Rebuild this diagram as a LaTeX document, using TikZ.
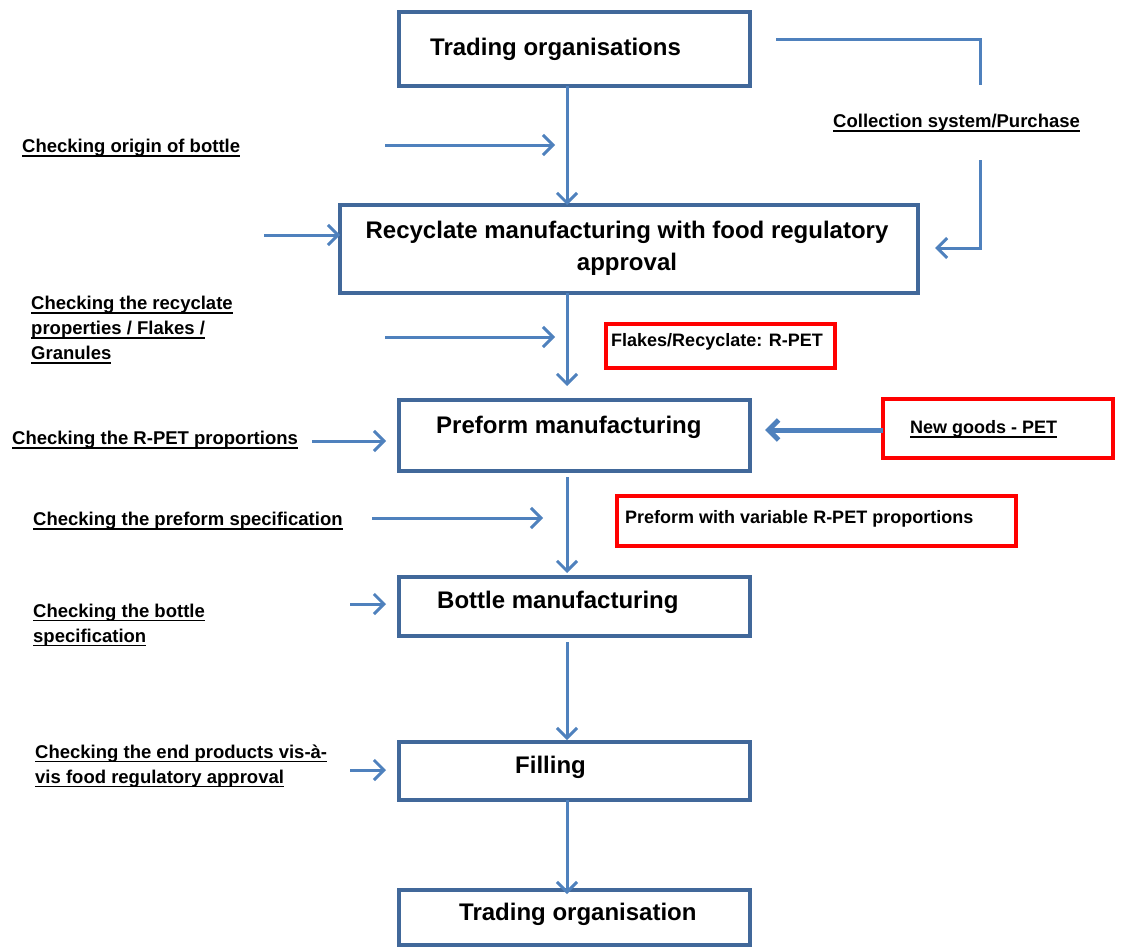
\documentclass[tikz,border=0pt]{standalone}
\usepackage{fontspec}
\setmainfont{Liberation Sans}
\newcommand{\myul}[1]{\setbox0=\hbox{#1}\rlap{\vrule height -2.4pt depth 4.1pt width \wd0}\box0}
\usetikzlibrary{arrows.meta,calc}
\definecolor{boxblue}{HTML}{41689A}
\definecolor{arrowblue}{HTML}{4F81BD}
\definecolor{redline}{HTML}{FF0000}
\tikzset{
 box/.style={draw=boxblue, line width=4pt, rectangle, inner sep=0pt, outer sep=0pt},
 redbox/.style={draw=redline, line width=4pt, rectangle, inner sep=0pt, outer sep=0pt},
 flowline/.style={draw=arrowblue, line width=3pt},
 flow/.style={flowline, -{Straight Barb[length=10pt,width=20pt]}},
 lab/.style={anchor=west, font=\fontsize{18.5}{25}\selectfont\bfseries, align=left, inner sep=0pt},
 btext/.style={font=\fontsize{24}{32}\selectfont\bfseries, inner sep=0pt, align=center},
 rtext/.style={anchor=west, font=\fontsize{18}{22}\selectfont\bfseries, inner sep=0pt},
}
\begin{document}
\begin{tikzpicture}[x=1pt,y=-1pt]
\useasboundingbox (0,0) rectangle (1121,950);
% boxes
\node[box, minimum width=351pt, minimum height=74pt] (b1) at (574.5,49) {};
\node[box, minimum width=578pt, minimum height=88pt] (b2) at (629,249) {};
\node[box, minimum width=351pt, minimum height=71pt] (b3) at (574.5,435.5) {};
\node[box, minimum width=351pt, minimum height=59pt] (b4) at (574.5,606.5) {};
\node[box, minimum width=351pt, minimum height=58pt] (b5) at (574.5,771) {};
\node[box, minimum width=351pt, minimum height=55pt] (b6) at (574.5,917.5) {};
\node[btext, anchor=west] (t1) at (430,49) {Trading organisations};
\node[btext] (t2) at (627,248) {Recyclate manufacturing with food regulatory\\approval};
\node[btext, anchor=west] (t3) at (436,427) {Preform manufacturing};
\node[btext, anchor=west] (t4) at (437,602) {Bottle manufacturing};
\node[btext, anchor=west] (t5) at (515,767) {Filling};
\node[btext, anchor=west] (t6) at (459,914) {Trading organisation};
% red boxes
\node[redbox, minimum width=229pt, minimum height=44pt] (r1) at (720.5,346) {};
\node[redbox, minimum width=230pt, minimum height=59pt] (r2) at (998,428.5) {};
\node[redbox, minimum width=399pt, minimum height=50pt] (r3) at (816.5,521) {};
\node[rtext] (rt1) at (611,342) {Flakes/Recyclate: R-PET};
\node[rtext] (rt2) at (910,429) {\myul{New goods - PET}};
\node[rtext] (rt3) at (625,519) {Preform with variable R-PET proportions};
% labels
\node[lab] (l1) at (22,148) {\myul{Checking origin of bottle}};
\node[lab] (l2) at (31,330) {\myul{Checking the recyclate}\\\myul{properties / Flakes /}\\\myul{Granules}};
\node[lab] (l3) at (12,440) {\myul{Checking the R-PET proportions}};
\node[lab] (l4) at (33,521) {\myul{Checking the preform specification}};
\node[lab] (l5) at (33,625) {\myul{Checking the bottle}\\\myul{specification}};
\node[lab] (l6) at (35,766) {\myul{Checking the end products vis-à-}\\\myul{vis food regulatory approval}};
\node[lab] (l7) at (833,123) {\myul{Collection system/Purchase}};
% coordinates
\coordinate (v) at (567,0);
\coordinate (a1s) at (385,145); \coordinate (a1e) at (555,145);
\coordinate (a2s) at (264,235); \coordinate (a2e) at (340,235);
\coordinate (a3s) at (385,337); \coordinate (a3e) at (555,337);
\coordinate (a4s) at (312,441); \coordinate (a4e) at (386,441);
\coordinate (a5s) at (372,518); \coordinate (a5e) at (543,518);
\coordinate (a6s) at (350,604); \coordinate (a6e) at (386,604);
\coordinate (a7s) at (350,770); \coordinate (a7e) at (386,770);
\coordinate (c1) at (776,40); \coordinate (c2) at (980,85);
\coordinate (c3) at (980,160); \coordinate (c4) at (935,248);
\coordinate (n1) at (765,430);
% vertical flow
\draw[flow] (b1.south -| v) -- (b2.north -| v);
\draw[flow] (b2.south -| v) -- ($(b3.north -| v)+(0,-14)$);
\draw[flow] ($(b3.south -| v)+(0,6)$) -- ($(b4.north -| v)+(0,-4)$);
\draw[flow] ($(b4.south -| v)+(0,6)$) -- ($(b5.north -| v)+(0,-2)$);
\draw[flow] (b5.south -| v) -- ($(b6.north -| v)+(0,4)$);
% side arrows
\draw[flow] (a1s) -- (a1e);
\draw[flow] (a2s) -- (a2e);
\draw[flow] (a3s) -- (a3e);
\draw[flow] (a4s) -- (a4e);
\draw[flow] (a5s) -- (a5e);
\draw[flow] (a6s) -- (a6e);
\draw[flow] (a7s) -- (a7e);
\draw[flowline] (c1) -| (c2);
\draw[flow] (c3) |- (c4);
\draw[flow, line width=5pt] (r2.west |- n1) -- (n1);
\end{tikzpicture}
\end{document}
